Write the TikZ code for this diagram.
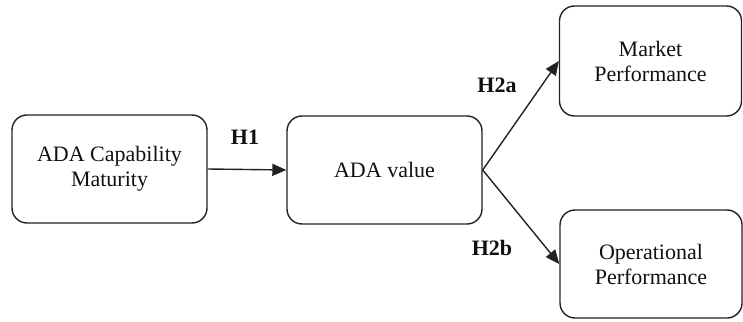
\documentclass[tikz,border=0pt]{standalone}
\usepackage{fontspec}
\setmainfont{Liberation Serif}
\usepackage{xcolor}
\usepackage{tikz}
\usetikzlibrary{arrows.meta}
\definecolor{modelline}{HTML}{222222}
\definecolor{modeltext}{HTML}{111111}

\begin{document}
\begin{tikzpicture}[
  x=1pt,y=-1pt,
  font=\fontsize{22}{25}\selectfont,
  construct/.style={draw=modelline,line width=1.4pt,rounded corners=15pt,align=center,
    text=modeltext,inner sep=0pt,minimum width=195pt,minimum height=108pt},
  link/.style={-{Triangle[length=14pt,width=12pt]},line width=1.4pt,modelline},
  hyp/.style={font=\fontsize{22}{25}\selectfont\bfseries,text=modeltext}
]
\useasboundingbox (0,0) rectangle (743,321);
\node[construct] (cap) at (109.5,169) {ADA Capability\\Maturity};
\node[construct] (val) at (384.5,170) {ADA value};
\node[construct,minimum width=182pt,minimum height=110pt] (mkt) at (650.5,61) {Market\\Performance};
\node[construct,minimum width=182pt] (ops) at (651,264) {Operational\\Performance};
\draw[link] (cap.east) -- (val.west);
\draw[link] (val.east) -- (mkt.west);
\draw[link] (val.east) -- (ops.west);
\node[hyp] (h1) at (245,137) {H1};
\node[hyp] (h2a) at (497,85) {H2a};
\node[hyp] (h2b) at (492,248) {H2b};
\end{tikzpicture}
\end{document}
